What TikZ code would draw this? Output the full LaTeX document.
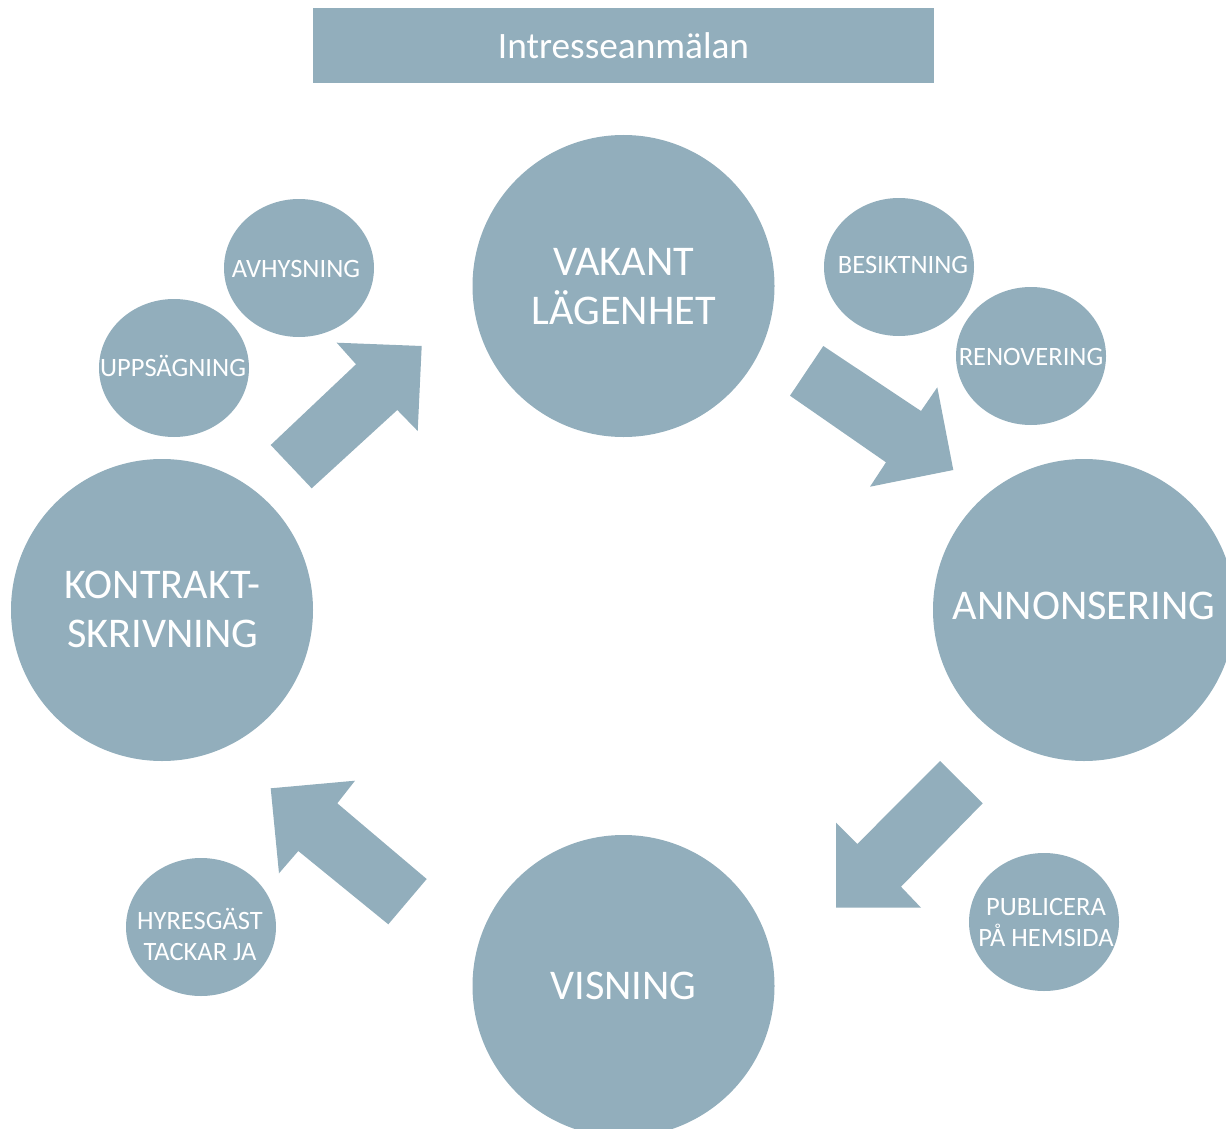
\documentclass[tikz,border=0pt]{standalone}
\usepackage{fontspec}
\setmainfont{Carlito}
\definecolor{bub}{RGB}{146,174,188}
\begin{document}
\begin{tikzpicture}[x=1pt,y=-1pt,
  bigc/.style={circle, fill=bub, minimum size=302pt, inner sep=0pt},
  bigt/.style={text=white, font=\fontsize{42.3}{49}\selectfont, align=center, inner sep=0pt},
  smallt/.style={text=white, font=\fontsize{26.5}{31}\selectfont, align=center, inner sep=0pt},
  blk/.style={fill=bub},
  topbox/.style={rectangle, fill=bub, minimum width=621pt, minimum height=75pt, inner sep=0pt,
    text=white, font=\fontsize{37.3}{40}\selectfont}]
\useasboundingbox (0,0) rectangle (1226,1129);
\clip (0,0) rectangle (1226,1129);

% top box
\node[topbox] (intr) at (623.5,45.5) {Intresseanmälan};

% big circles
\node[bigc] (vak) at (623.5,286) {};
\node[bigt] (vakt) at (623.5,287) {VAKANT\\LÄGENHET};
\node[bigc] (ann) at (1084,610) {};
\node[bigt] (annt) at (1084,606) {ANNONSERING};
\node[bigc] (vis) at (623.5,986) {};
\node[bigt] (vist) at (623.5,986) {VISNING};
\node[bigc] (kon) at (162,610) {};
\node[bigt] (kont) at (162.5,609) {KONTRAKT-\\SKRIVNING};

% small bubbles
\fill[bub] (299,268) ellipse [x radius=75, y radius=69];
\node[smallt] (avh) at (296,269) {AVHYSNING};
\fill[bub] (174,368) ellipse [x radius=75, y radius=69];
\node[smallt] (upp) at (173,366) {UPPSÄGNING};
\fill[bub] (899,267) ellipse [x radius=75, y radius=69];
\node[smallt] (bes) at (903,265) {BESIKTNING};
\fill[bub] (1031,356) ellipse [x radius=75, y radius=69];
\node[smallt] (ren) at (1031,357) {RENOVERING};
\fill[bub] (1044,922) ellipse [x radius=75, y radius=69];
\node[smallt] (pub) at (1046,922) {PUBLICERA\\PÅ HEMSIDA};
\fill[bub] (201,927) ellipse [x radius=75, y radius=69];
\node[smallt] (hyr) at (200,934) {HYRESGÄST\\TACKAR JA};

% block arrows
\fill[blk] (270.7,445) -- (356,364.3) -- (336.7,342.7) -- (421.7,346) -- (417.7,431) -- (397.3,410) -- (311.7,488.3) -- cycle;
\fill[blk] (823.3,346) -- (921,411) -- (937.3,387.3) -- (953.3,470) -- (870,486.7) -- (886,462.3) -- (790,395.7) -- cycle;
\fill[blk] (940,761) -- (982.7,803.3) -- (901,886.7) -- (921,907.7) -- (836,907.7) -- (836,822.7) -- (857.3,844) -- cycle;
\fill[blk] (426.7,879) -- (388.3,924.3) -- (298.3,851) -- (279,873.3) -- (270.7,788.3) -- (355,780.7) -- (337.3,803.3) -- cycle;
\end{tikzpicture}
\end{document}
